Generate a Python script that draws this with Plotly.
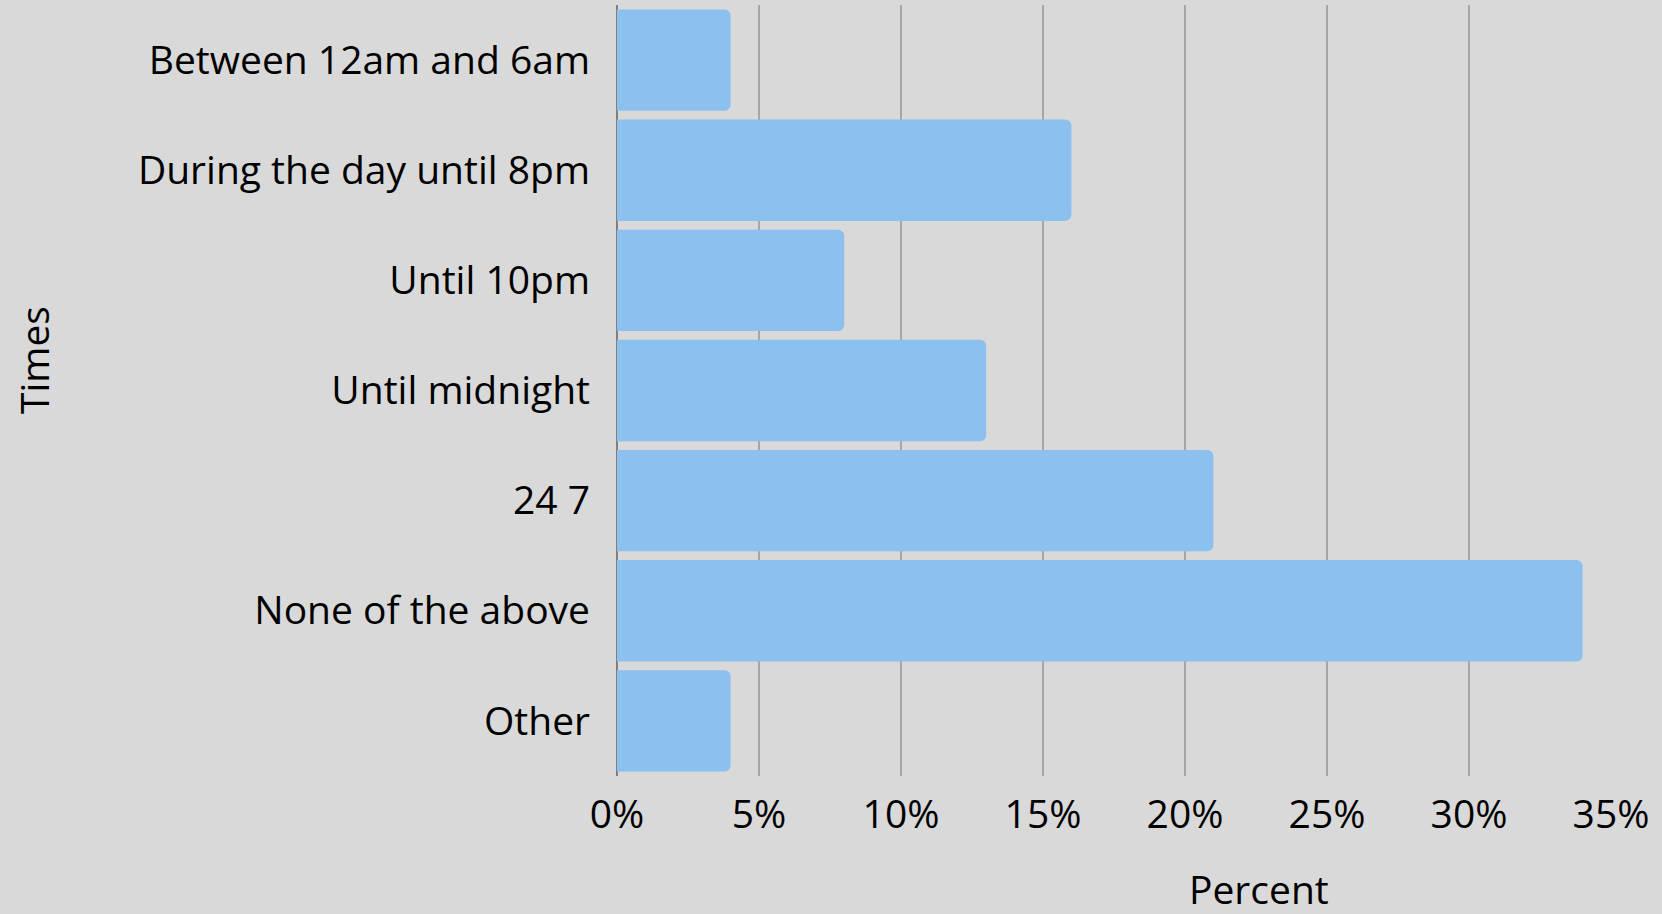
import plotly.graph_objects as go

# categories top -> bottom
times = ["Between 12am and 6am", "During the day until 8pm", "Until 10pm",
         "Until midnight", "24 7", "None of the above", "Other"]
percent = [4, 16, 8, 13, 21, 34, 4]
x_ticks = [0, 5, 10, 15, 20, 25, 30, 35]
x_ticklabels = ["0%", "5%", "10%", "15%", "20%", "25%", "30%", "35%"]

W, H = 1662, 914
L, R, T, B = 617, 51, 5, 138
bg = "#d9d9d9"
font = "Open Sans"
fsize = 39

fig = go.Figure(go.Bar(
    x=percent,
    y=times,
    orientation="h",
    marker=dict(color="#8bc0ef", cornerradius=6, line=dict(width=0)),
))

fig.update_layout(
    width=W, height=H,
    paper_bgcolor=bg, plot_bgcolor=bg,
    margin=dict(l=L, r=R, t=T, b=B),
    bargap=0.08,
    showlegend=False,
    font=dict(family=font, color="#000000", size=fsize),
)

fig.update_xaxes(
    range=[0, 35], tickvals=x_ticks, ticktext=x_ticklabels,
    showgrid=True, gridcolor="#a6a6a6", gridwidth=2,
    zeroline=True, zerolinecolor="#7f7f7f", zerolinewidth=2,
    showline=False, ticks="", ticklabelstandoff=12,
)
fig.update_yaxes(
    categoryorder="array", categoryarray=times[::-1],
    showgrid=False, showline=False, ticks="",
    ticklabelstandoff=26,
)

# axis titles as annotations, positioned in pixels relative to plot area
plot_w = W - L - R
plot_h = H - T - B
fig.add_annotation(text="Percent", showarrow=False, xref="paper", yref="paper",
                   x=(1259 - L) / plot_w, y=(H - B - 888) / plot_h,
                   xanchor="center", yanchor="middle")
fig.add_annotation(text="Times", textangle=-90, showarrow=False,
                   xref="paper", yref="paper",
                   x=(33 - L) / plot_w, y=(H - B - 360) / plot_h,
                   xanchor="center", yanchor="middle")

fig.write_html("out.html", config={"displayModeBar": False},
               post_script="document.body.style.margin='0';")
